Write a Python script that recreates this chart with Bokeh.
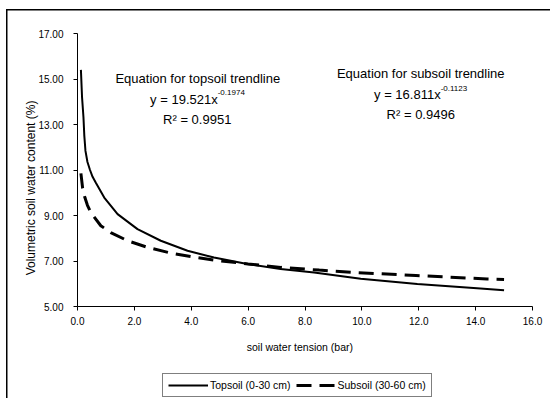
import math
from bokeh.plotting import figure
from bokeh.models import (Range1d, FixedTicker, NumeralTickFormatter, Label,
                          Legend, LegendItem)
from bokeh.embed import file_html
from bokeh.resources import INLINE

# ---- data ----
tension_top = [0.12, 0.16, 0.21, 0.24, 0.28, 0.35, 0.44, 0.53, 0.64, 0.94, 1.41,
               2.11, 2.93, 3.87, 4.80, 5.97, 7.14, 8.32, 9.96, 11.95, 14.05, 15.0]
topsoil = [15.40, 14.20, 13.31, 12.50, 11.84, 11.35, 11.00, 10.70, 10.45, 9.79,
           9.06, 8.40, 7.89, 7.45, 7.15, 6.87, 6.65, 6.49, 6.22, 5.99, 5.80, 5.71]

tension_sub = [0.12, 0.18, 0.26, 0.35, 0.47, 0.82, 1.17, 1.76, 2.46, 3.28, 4.10,
               4.80, 6.00, 7.15, 8.50, 9.80, 11.90, 14.40, 15.0]
subsoil = [10.85, 10.20, 9.79, 9.45, 9.13, 8.55, 8.25, 7.89, 7.60, 7.35, 7.17,
           7.04, 6.87, 6.72, 6.60, 6.49, 6.36, 6.21, 6.19]

x_ticks = [0, 2, 4, 6, 8, 10, 12, 14, 16]
y_ticks = [5, 7, 9, 11, 13, 15, 17]

series_labels = ["Topsoil (0-30 cm)", "Subsoil (30-60 cm)"]
x_title = "soil water tension (bar)"
y_title = "Volumetric soil water content (%)"

FONT = "Liberation Sans"

# layout geometry (pixels): axes box from x=0 at 77px to 16 at 532px,
# y=17 at 33px to 5 at 306px; the frame fills the whole canvas so that the
# titles and legend outside the axes box are not clipped
W, H = 550, 398
PX_X = (532 - 77) / 16.0
PX_Y = (306 - 33) / 12.0
x0 = -77 / PX_X
x1 = 16 + (W - 532) / PX_X
y1 = 17 + 33 / PX_Y
y0 = 5 - (H - 306) / PX_Y

p = figure(width=W, height=H, output_backend="svg", toolbar_location=None,
           x_range=Range1d(x0, x1), y_range=Range1d(y0, y1),
           min_border=0)
p.background_fill_color = None
p.border_fill_color = None
p.outline_line_color = None
p.xgrid.visible = False
p.ygrid.visible = False
# outer chart border (left and top edges; right/bottom lie outside the window)
p.styles = {
    "background": ("linear-gradient(#000,#000) 6px 9px / 1.5px 100% no-repeat, "
                   "linear-gradient(#000,#000) 6px 9px / 100% 1.5px no-repeat, #fff")
}

for ax in (p.xaxis[0], p.yaxis[0]):
    ax.axis_line_color = "black"
    ax.axis_line_width = 1
    ax.major_tick_line_color = "black"
    ax.major_tick_out = 4
    ax.major_tick_in = 0
    ax.minor_tick_line_color = None
    ax.major_label_text_font = FONT
    ax.major_label_text_font_size = "10px"
    ax.major_label_text_color = "black"

p.xaxis[0].ticker = FixedTicker(ticks=x_ticks)
p.xaxis[0].formatter = NumeralTickFormatter(format="0.0")
p.xaxis[0].major_label_standoff = 6
p.xaxis[0].fixed_location = 5
p.xaxis[0].bounds = (0, 16)

p.yaxis[0].ticker = FixedTicker(ticks=y_ticks)
p.yaxis[0].formatter = NumeralTickFormatter(format="0.00")
p.yaxis[0].major_label_standoff = 10
p.yaxis[0].fixed_location = 0
p.yaxis[0].bounds = (5, 17)

r_top = p.line(tension_top, topsoil, line_color="black", line_width=2)
r_sub = p.line(tension_sub, subsoil, line_color="black", line_width=3,
               line_dash="15 8")

def lab(x, y, text, size="13px", align="center", angle=0.0):
    p.add_layout(Label(x=x, y=y, text=text, text_align=align,
                       text_baseline="middle", text_font=FONT,
                       text_font_size=size, text_color="black", angle=angle))

# topsoil equation
lab(4.23, 15.04, "Equation for topsoil trendline")
lab(4.93, 14.09, "y = 19.521x", align="right")
lab(4.93, 14.41, "-0.1974", size="8px", align="left")
lab(4.21, 13.24, "R\u00b2 = 0.9951")

# subsoil equation
lab(12.07, 15.24, "Equation for subsoil trendline")
lab(12.77, 14.34, "y = 16.811x", align="right")
lab(12.77, 14.60, "-0.1123", size="8px", align="left")
lab(12.07, 13.46, "R\u00b2 = 0.9496")

# axis titles
lab(7.82, 3.24, x_title, size="10.5px")
lab(-1.62, 10.21, y_title, size="12px", angle=math.pi / 2)

legend = Legend(items=[LegendItem(label=series_labels[0], renderers=[r_top]),
                       LegendItem(label=series_labels[1], renderers=[r_sub])],
                orientation="horizontal", location=(162, 1))
legend.border_line_color = "black"
legend.border_line_width = 1
legend.background_fill_color = "white"
legend.background_fill_alpha = 1
legend.padding = 5
legend.spacing = 5
legend.margin = 0
legend.glyph_width = 40
legend.glyph_height = 12
legend.label_height = 12
legend.label_standoff = 2
legend.label_text_font = FONT
legend.label_text_font_size = "10.5px"
legend.label_text_color = "black"
p.add_layout(legend)

open("out.html", "w").write(file_html(p, INLINE))
